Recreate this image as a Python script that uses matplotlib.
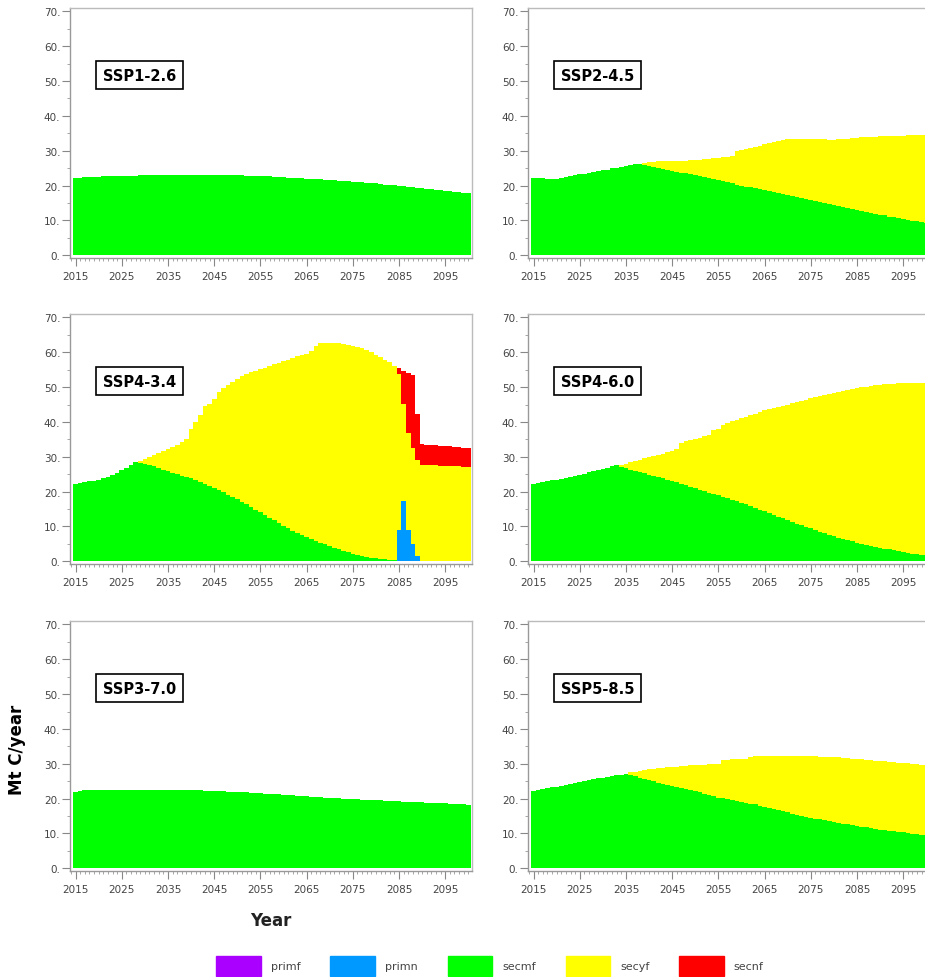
import numpy as np
import matplotlib
matplotlib.use("Agg")
from matplotlib import pyplot as plt
from matplotlib.patches import Patch
from matplotlib.ticker import MultipleLocator, FuncFormatter

years = np.arange(2015, 2101)

layer_names = ['primf', 'primn', 'secmf', 'secyf', 'secnf']
layer_colors = ['#aa00ff', '#0099ff', '#00ff00', '#ffff00', '#ff0000']

# SSP1-2.6 (secondary mature forest only)
ssp126_secmf = [22.1, 22.3, 22.4, 22.4, 22.5, 22.5, 22.6, 22.6, 22.6, 22.7,
                22.7, 22.8, 22.8, 22.8, 22.9, 22.9, 22.9, 22.9, 23.0, 23.0,
                23.0, 23.0, 23.0, 23.0, 23.0, 23.0, 23.0, 23.0, 23.0, 23.0,
                23.0, 23.0, 22.9, 22.9, 22.9, 22.9, 22.9, 22.8, 22.8, 22.8,
                22.7, 22.7, 22.6, 22.5, 22.5, 22.4, 22.3, 22.3, 22.2, 22.1,
                22.0, 21.9, 21.9, 21.8, 21.7, 21.6, 21.5, 21.4, 21.3, 21.2,
                21.1, 21.0, 20.9, 20.8, 20.7, 20.6, 20.5, 20.3, 20.2, 20.1,
                20.0, 19.8, 19.7, 19.6, 19.4, 19.3, 19.1, 19.0, 18.8, 18.7,
                18.5, 18.4, 18.2, 18.1, 17.9, 17.8]

# SSP2-4.5
ssp245_secmf = [22.2, 22.1, 22.1, 22.0, 22.0, 22.0, 22.2, 22.4, 22.7, 22.9,
                23.2, 23.4, 23.6, 23.9, 24.1, 24.4, 24.6, 24.9, 25.1, 25.4,
                25.6, 25.9, 26.1, 26.3, 26.0, 25.6, 25.3, 25.0, 24.8, 24.5,
                24.2, 24.0, 23.7, 23.5, 23.2, 23.0, 22.7, 22.4, 22.1, 21.9,
                21.6, 21.3, 21.0, 20.6, 20.3, 20.0, 19.7, 19.5, 19.2, 19.0,
                18.7, 18.4, 18.1, 17.8, 17.6, 17.3, 17.0, 16.7, 16.4, 16.2,
                15.9, 15.6, 15.2, 14.9, 14.6, 14.3, 14.0, 13.8, 13.5, 13.3,
                13.0, 12.7, 12.5, 12.2, 11.9, 11.6, 11.4, 11.1, 10.9, 10.6,
                10.4, 10.2, 9.9, 9.7, 9.5, 9.3]
ssp245_secyf = [0.0] * 24 + [
                0.5, 1.2, 1.6, 2.0, 2.2, 2.5, 2.9, 3.1, 3.4, 3.6,
                4.0, 4.3, 4.7, 5.2, 5.6, 5.9, 6.3, 6.8, 7.3, 7.8,
                9.5, 10.1, 10.7, 11.3, 11.9, 12.5, 13.1, 13.7, 14.4, 15.0,
                15.6, 16.1, 16.4, 16.7, 17.0, 17.2, 17.5, 17.7, 18.1, 18.4,
                18.6, 18.9, 19.3, 19.6, 20.0, 20.3, 20.7, 21.1, 21.3, 21.7,
                22.1, 22.5, 22.7, 23.1, 23.3, 23.7, 23.9, 24.2, 24.5, 24.8,
                25.0, 25.3]

# SSP4-3.4
ssp434_primn = [0.0] * 70 + [8.9, 17.3, 8.9, 4.8, 1.4] + [0.0] * 11
ssp434_secmf = [22.2, 22.5, 22.7, 22.9, 23.1, 23.3, 23.8, 24.3, 24.8, 25.4,
                26.1, 26.9, 27.7, 28.5, 28.3, 28.0, 27.6, 27.2, 26.7, 26.2,
                25.8, 25.4, 25.0, 24.6, 24.3, 23.9, 23.4, 22.8, 22.3, 21.7,
                21.1, 20.4, 19.8, 19.1, 18.5, 17.8, 17.1, 16.3, 15.6, 14.8,
                14.0, 13.2, 12.5, 11.7, 11.0, 10.2, 9.5, 8.8, 8.2, 7.5,
                6.9, 6.4, 5.8, 5.3, 4.8, 4.3, 3.8, 3.4, 3.0, 2.6,
                2.2, 1.9, 1.6, 1.3, 1.0, 0.8, 0.6, 0.5, 0.4, 0.3,
                0.2, 0.1, 0.1, 0.0, 0.0] + [0.0] * 11
ssp434_secyf = [0.0] * 14 + [
                0.5, 1.3, 2.3, 3.3, 4.3, 5.4, 6.4, 7.4, 8.5, 9.5,
                10.9, 14.2, 16.6, 19.2, 22.2, 23.5, 25.5, 28.1, 29.8, 31.4,
                33.0, 34.6, 36.0, 37.4, 38.6, 39.9, 41.1, 42.4, 43.6, 44.8,
                46.0, 47.2, 48.4, 49.5, 50.6, 51.7, 52.7, 53.9, 55.9, 57.3,
                57.9, 58.5, 58.9, 59.2, 59.4, 59.6, 59.7, 59.6, 59.5, 59.3,
                59.0, 58.5, 58.0, 57.4, 56.7, 55.9, 44.6, 27.8, 27.7, 27.6,
                27.7, 27.7, 27.6, 27.6, 27.5, 27.4, 27.4, 27.3, 27.2, 27.2,
                27.1, 27.0]
ssp434_secnf = [0.0] * 70 + [1.7, 9.4, 17.4, 21.0, 13.2,
                             5.9, 5.9, 5.8, 5.8, 5.8, 5.7, 5.7, 5.6, 5.5, 5.5, 5.4]

# SSP4-6.0
ssp460_secmf = [22.2, 22.5, 22.7, 23.0, 23.2, 23.4, 23.7, 23.9, 24.2, 24.5,
                24.8, 25.1, 25.5, 25.8, 26.2, 26.5, 26.9, 27.2, 27.5, 27.1,
                26.7, 26.3, 25.9, 25.6, 25.2, 24.8, 24.5, 24.1, 23.8, 23.4,
                23.1, 22.7, 22.2, 21.8, 21.3, 20.9, 20.5, 20.1, 19.7, 19.3,
                18.9, 18.5, 18.1, 17.6, 17.2, 16.8, 16.3, 15.8, 15.3, 14.8,
                14.3, 13.8, 13.3, 12.8, 12.3, 11.8, 11.3, 10.8, 10.4, 9.9,
                9.4, 9.0, 8.5, 8.1, 7.6, 7.2, 6.8, 6.4, 6.0, 5.7,
                5.3, 5.0, 4.7, 4.4, 4.2, 3.9, 3.6, 3.4, 3.1, 2.9,
                2.6, 2.4, 2.2, 2.0, 1.8, 1.7]
ssp460_secyf = [0.0] * 19 + [
                0.6, 1.3, 2.1, 2.9, 3.6, 4.3, 5.1, 5.7, 6.5, 7.1,
                7.9, 8.5, 9.5, 11.8, 12.6, 13.5, 14.3, 15.0, 15.8, 16.5,
                18.3, 19.1, 20.7, 21.6, 22.6, 23.4, 24.3, 25.2, 26.2, 27.1,
                28.1, 29.0, 29.8, 30.6, 31.4, 32.3, 33.1, 34.0, 34.9, 35.6,
                36.5, 37.4, 38.1, 38.9, 39.6, 40.4, 41.1, 41.8, 42.5, 43.2,
                43.8, 44.4, 44.9, 45.4, 45.9, 46.3, 46.7, 47.2, 47.5, 47.9,
                48.3, 48.7, 48.9, 49.1, 49.3, 49.5, 49.6]

# SSP3-7.0 (secondary mature forest only)
ssp370_secmf = [22.0, 22.3, 22.4, 22.4, 22.4, 22.5, 22.5, 22.5, 22.5, 22.5,
                22.5, 22.5, 22.6, 22.6, 22.6, 22.6, 22.6, 22.6, 22.5, 22.5,
                22.5, 22.5, 22.5, 22.5, 22.5, 22.4, 22.4, 22.4, 22.3, 22.3,
                22.2, 22.2, 22.1, 22.0, 22.0, 21.9, 21.8, 21.8, 21.7, 21.6,
                21.5, 21.4, 21.3, 21.3, 21.2, 21.1, 21.0, 20.9, 20.8, 20.7,
                20.6, 20.5, 20.5, 20.4, 20.3, 20.2, 20.2, 20.1, 20.0, 20.0,
                19.9, 19.8, 19.7, 19.7, 19.6, 19.5, 19.5, 19.4, 19.3, 19.3,
                19.2, 19.1, 19.0, 19.0, 18.9, 18.9, 18.8, 18.8, 18.7, 18.7,
                18.6, 18.5, 18.5, 18.4, 18.3, 18.2]

# SSP5-8.5
ssp585_secmf = [22.2, 22.4, 22.7, 22.9, 23.2, 23.4, 23.7, 24.0, 24.2, 24.5,
                24.8, 25.0, 25.3, 25.5, 25.8, 26.0, 26.2, 26.4, 26.7, 26.9,
                27.1, 26.7, 26.4, 26.0, 25.7, 25.3, 25.0, 24.6, 24.3, 23.9,
                23.6, 23.3, 23.0, 22.8, 22.5, 22.2, 21.8, 21.4, 21.0, 20.7,
                20.3, 20.1, 19.8, 19.6, 19.3, 19.1, 18.8, 18.5, 18.3, 18.0,
                17.7, 17.4, 17.0, 16.7, 16.3, 16.0, 15.7, 15.4, 15.0, 14.7,
                14.4, 14.2, 14.0, 13.7, 13.5, 13.3, 13.1, 12.8, 12.6, 12.3,
                12.1, 11.9, 11.7, 11.5, 11.3, 11.1, 10.9, 10.8, 10.6, 10.5,
                10.3, 10.1, 9.9, 9.8, 9.6, 9.5]
ssp585_secyf = [0.0] * 21 + [
                0.8, 1.3, 1.9, 2.5, 3.1, 3.5, 4.1, 4.5, 5.1, 5.5,
                5.9, 6.3, 6.6, 7.0, 7.4, 7.9, 8.3, 8.8, 9.2, 9.7,
                11.1, 11.4, 11.7, 12.0, 12.3, 12.7, 13.5, 13.8, 14.2, 14.6,
                14.9, 15.3, 15.6, 16.0, 16.3, 16.6, 16.8, 17.2, 17.5, 17.7,
                17.9, 18.0, 18.3, 18.4, 18.5, 18.7, 18.9, 19.0, 19.2, 19.3,
                19.4, 19.5, 19.6, 19.6, 19.7, 19.8, 19.8, 19.8, 19.8, 19.9,
                20.0, 20.0, 20.0, 20.1, 20.1]

zeros = [0.0] * len(years)
# (label, primf, primn, secmf, secyf, secnf), laid out row by row
panels = [
    ('SSP1-2.6', zeros, zeros, ssp126_secmf, zeros, zeros),
    ('SSP2-4.5', zeros, zeros, ssp245_secmf, ssp245_secyf, zeros),
    ('SSP4-3.4', zeros, ssp434_primn, ssp434_secmf, ssp434_secyf, ssp434_secnf),
    ('SSP4-6.0', zeros, zeros, ssp460_secmf, ssp460_secyf, zeros),
    ('SSP3-7.0', zeros, zeros, ssp370_secmf, zeros, zeros),
    ('SSP5-8.5', zeros, zeros, ssp585_secmf, ssp585_secyf, zeros),
]

fig = plt.figure(figsize=(9.25, 9.78), dpi=100)

col_x = [0.0757, 0.5708]
row_y = [0.7352, 0.4223, 0.1084]
ax_w, ax_h = 0.4346, 0.2560

for i, (label, *layers) in enumerate(panels):
    ax = fig.add_axes([col_x[i % 2], row_y[i // 2], ax_w, ax_h])
    bottom = np.zeros(len(years))
    for vals, color in zip(layers, layer_colors):
        vals = np.asarray(vals, dtype=float)
        if vals.any():
            ax.bar(years, vals, width=1.0, bottom=bottom, color=color,
                   linewidth=0, antialiased=False)
        bottom += vals

    ax.set_xlim(2013.8, 2100.8)
    ax.set_ylim(-0.8, 71.1)
    ax.set_xticks(np.arange(2015, 2100, 10))
    ax.xaxis.set_minor_locator(MultipleLocator(1))
    ax.set_yticks(np.arange(0, 71, 10))
    ax.yaxis.set_minor_locator(MultipleLocator(5))
    ax.yaxis.set_major_formatter(FuncFormatter(lambda v, p: f'{v:.0f}.'))
    ax.tick_params(which='major', length=5.5, width=0.8, color='#888888',
                   labelsize=7.5, labelcolor='#444444')
    ax.tick_params(which='minor', length=2.5, width=0.6, color='#999999')
    ax.tick_params(axis='y', pad=1.5)
    ax.tick_params(axis='x', pad=4)
    for side in ['top', 'right']:
        ax.spines[side].set_color('#bbbbbb')
        ax.spines[side].set_linewidth(1.0)
    for side in ['left', 'bottom']:
        ax.spines[side].set_color('#999999')
        ax.spines[side].set_linewidth(1.0)

    ax.text(0.082, 0.73, label, transform=ax.transAxes, ha='left', va='center',
            fontsize=10.5, fontweight='bold', color='black',
            bbox=dict(boxstyle='square,pad=0.45', fc='white', ec='black', lw=1.2))

fig.text(17 / 925, 1 - 750 / 978, 'Mt C/year', rotation=90, ha='center',
         va='center', fontsize=12, fontweight='bold')
fig.text(271 / 925, 1 - 921 / 978, 'Year', ha='center', va='center',
         fontsize=12, fontweight='bold', color='#222222')

handles = [Patch(facecolor=c, edgecolor=c, alpha=1.0, label=n)
           for n, c in zip(layer_names, layer_colors)]
fig.legend(handles=handles, ncol=5, loc='center',
           bbox_to_anchor=(490 / 925, 1 - 967 / 978), frameon=False,
           fontsize=8, labelcolor='#444444', handlelength=4.0,
           handleheight=2.3, handletextpad=0.9, columnspacing=2.7)

fig.savefig('out.png', dpi=100)
